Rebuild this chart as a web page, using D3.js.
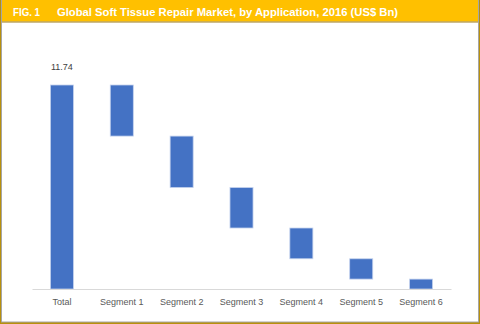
<!DOCTYPE html>
<html><head><meta charset="utf-8">
<script src="https://cdn.jsdelivr.net/npm/d3@7"></script>
<style>html,body{margin:0;padding:0;background:#fff;}svg{display:block;}</style>
</head><body>
<script>
const categories = ["Total","Segment 1","Segment 2","Segment 3","Segment 4","Segment 5","Segment 6"];
const totalValue = 11.74;
const segmentValues = [2.94, 2.96, 2.33, 1.77, 1.17, 0.57];
const figLabel = "FIG. 1";
const title = "Global Soft Tissue Repair Market, by Application, 2016 (US$ Bn)";

const W = 480, H = 324;
const svg = d3.select("body").append("svg").attr("width", W).attr("height", H);

// frame
svg.append("rect").attr("x",0).attr("y",0).attr("width",W).attr("height",H).attr("fill","#B8900C");
svg.append("rect").attr("x",1.5).attr("y",0).attr("width",477).attr("height",322).attr("fill","#fff").attr("stroke","#A6A6A6").attr("stroke-width",1);
// header
svg.append("rect").attr("x",2).attr("y",0).attr("width",476).attr("height",21.5).attr("fill","#FFC000");
svg.append("line").attr("x1",2).attr("x2",478).attr("y1",22).attr("y2",22).attr("stroke","#9C7A1A").attr("stroke-width",1);
svg.append("text").attr("x",13).attr("y",16).attr("fill","#fff").attr("font-family","Liberation Sans, Arial, sans-serif")
  .attr("font-weight","bold").attr("font-size",11).attr("textLength",27).attr("lengthAdjust","spacingAndGlyphs").text(figLabel);
svg.append("text").attr("x",57).attr("y",16).attr("fill","#fff").attr("font-family","Liberation Sans, Arial, sans-serif")
  .attr("font-weight","bold").attr("font-size",11).attr("textLength",341).attr("lengthAdjust","spacingAndGlyphs").text(title);

// data for waterfall
const data = [];
data.push({cat: categories[0], start: 0, end: totalValue});
let cur = totalValue;
segmentValues.forEach((v,i) => { data.push({cat: categories[i+1], start: cur - v, end: cur}); cur -= v; });

const x = d3.scaleBand().domain(categories).range([32, 451]).paddingInner(0.615).paddingOuter(0.3075);
const y = d3.scaleLinear().domain([0, totalValue]).range([289, 85]);

const g = svg.append("g");
g.selectAll("rect.bar").data(data).enter().append("rect").attr("class","bar")
  .attr("x", d => x(d.cat)).attr("width", x.bandwidth())
  .attr("y", d => y(Math.max(d.start,d.end))).attr("height", d => Math.abs(y(d.start)-y(d.end)))
  .attr("fill","#4472C4").attr("stroke","#C5D3EE").attr("stroke-width",0.8);

// axis
const ax = svg.append("g").attr("transform","translate(0,289)").call(d3.axisBottom(x).tickSize(0).tickPadding(10));
ax.select(".domain").attr("stroke","#D9D9D9");
ax.selectAll("text").attr("font-family","Liberation Sans, Arial, sans-serif").attr("font-size",9).attr("fill","#595959");

// value label
svg.append("text").attr("x", x(categories[0]) + x.bandwidth()/2).attr("y", y(totalValue) - 15)
  .attr("text-anchor","middle").attr("font-family","Liberation Sans, Arial, sans-serif").attr("font-size",9).attr("fill","#404040")
  .text(totalValue.toFixed(2));
</script>
</body></html>
